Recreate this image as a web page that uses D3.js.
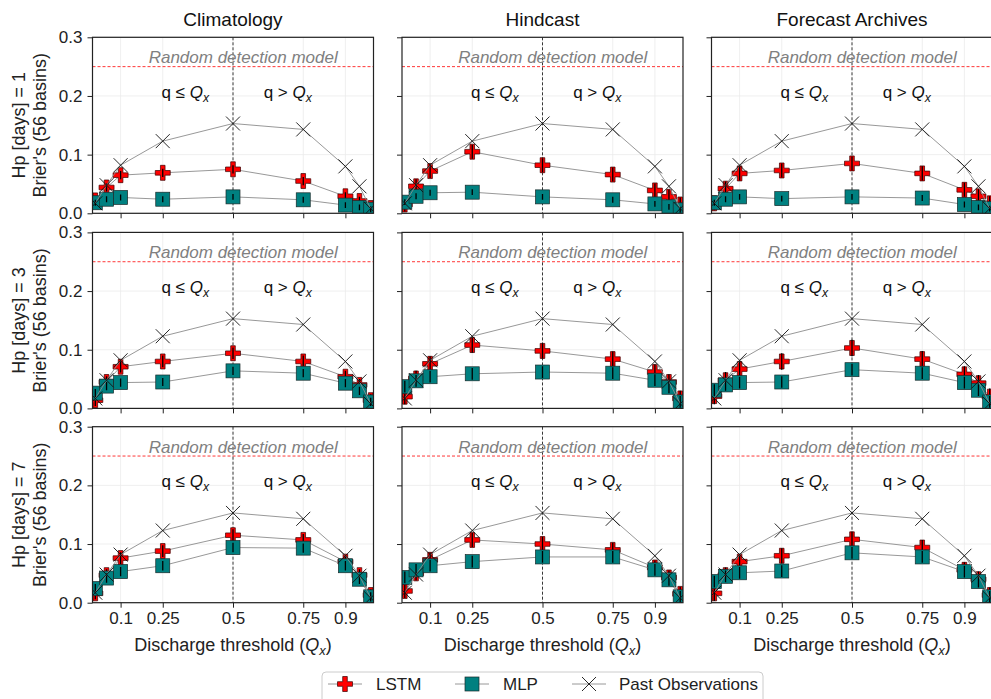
<!DOCTYPE html>
<html>
<head>
<meta charset="utf-8">
<style>
  body { margin: 0; background: #fff; }
  svg text { font-family: "Liberation Sans", Arial, sans-serif; }
</style>
</head>
<body>
<svg width="991" height="699"></svg>
<script src="https://cdn.jsdelivr.net/npm/d3@7"></script>
<script>
// ---- data ----
var columns = ["Climatology", "Hindcast", "Forecast Archives"];
var horizons = [1, 3, 7];
var thresholds = [0.01, 0.05, 0.1, 0.25, 0.5, 0.75, 0.9, 0.95, 0.99];
var xTicks = [0.1, 0.25, 0.5, 0.75, 0.9];
var yTicks = [0, 0.1, 0.2, 0.3];

// past observations is the same in every panel
var pastObs = [0.017, 0.048, 0.082, 0.123, 0.153, 0.143, 0.080, 0.046, 0.008];

// lstm[row][col], mlp[row][col]
var lstm = [
  [[0.022, 0.044, 0.065, 0.069, 0.075, 0.055, 0.029, 0.021, 0.009],
   [0.015, 0.046, 0.072, 0.105, 0.082, 0.066, 0.039, 0.028, 0.015],
   [0.017, 0.042, 0.068, 0.073, 0.085, 0.068, 0.040, 0.029, 0.017]],
  [[0.014, 0.045, 0.071, 0.080, 0.094, 0.080, 0.054, 0.040, 0.014],
   [0.020, 0.051, 0.076, 0.108, 0.098, 0.084, 0.062, 0.045, 0.017],
   [0.021, 0.048, 0.067, 0.080, 0.103, 0.084, 0.058, 0.043, 0.020]],
  [[0.016, 0.047, 0.076, 0.088, 0.115, 0.107, 0.070, 0.047, 0.013],
   [0.020, 0.050, 0.073, 0.107, 0.100, 0.090, 0.060, 0.043, 0.015],
   [0.016, 0.047, 0.070, 0.080, 0.108, 0.094, 0.056, 0.040, 0.013]]
];
var mlp = [
  [[0.018, 0.024, 0.027, 0.024, 0.028, 0.023, 0.014, 0.010, 0.007],
   [0.019, 0.029, 0.035, 0.036, 0.028, 0.023, 0.016, 0.011, 0.006],
   [0.018, 0.024, 0.028, 0.025, 0.028, 0.026, 0.015, 0.010, 0.008]],
  [[0.026, 0.038, 0.044, 0.045, 0.064, 0.060, 0.043, 0.030, 0.011],
   [0.037, 0.047, 0.054, 0.059, 0.062, 0.060, 0.048, 0.036, 0.011],
   [0.031, 0.040, 0.044, 0.045, 0.066, 0.060, 0.044, 0.031, 0.011]],
  [[0.024, 0.042, 0.053, 0.063, 0.094, 0.093, 0.063, 0.040, 0.010],
   [0.043, 0.056, 0.063, 0.070, 0.078, 0.078, 0.056, 0.039, 0.010],
   [0.036, 0.045, 0.051, 0.054, 0.085, 0.078, 0.053, 0.036, 0.010]]
];
// error bar half widths per panel
var lstmErr = [[0.007, 0.012, 0.012], [0.010, 0.013, 0.014], [0.010, 0.012, 0.013]];
var mlpErr = [[0.005, 0.005, 0.005], [0.007, 0.010, 0.010], [0.008, 0.010, 0.010]];
var randomLevel = 0.25;

// ---- layout ----
var svg = d3.select("svg");
var panelLeft = [92.5, 402, 711.5],
    panelTop = [37.3, 232.4, 426.7],
    pw = 281, ph = 176;

var x = d3.scaleLinear().domain([0, 1]).range([0, pw]);
var y = d3.scaleLinear().domain([0, 0.3]).range([ph, 0]);

var lineColor = "#8c8c8c";

function plusPath(s) {
  var a = s / 2, b = s / 6.5;
  return "M" + (-b) + "," + (-a) + "H" + b + "V" + (-b) + "H" + a + "V" + b + "H" + b +
    "V" + a + "H" + (-b) + "V" + b + "H" + (-a) + "V" + (-b) + "H" + (-b) + "Z";
}

function qText(sel, prefix) {
  sel.append("tspan").text(prefix);
  sel.append("tspan").attr("font-style", "italic").text("Q");
  sel.append("tspan").attr("font-style", "italic").attr("font-size", "0.72em")
    .attr("dy", 4).text("x");
}

function drawSeries(g, vals, err, kind) {
  var pts = thresholds.map(function(t, i) { return {x: t, y: vals[i]}; });
  g.append("path")
    .datum(pts)
    .attr("fill", "none")
    .attr("stroke", lineColor)
    .attr("stroke-width", 0.9)
    .attr("d", d3.line().x(function(d) { return x(d.x); }).y(function(d) { return y(d.y); }));

  var m = g.selectAll("g." + kind).data(pts).enter().append("g")
    .attr("class", kind)
    .attr("transform", function(d) { return "translate(" + x(d.x) + "," + y(d.y) + ")"; });

  if (kind == "lstm") {
    m.append("path").attr("d", plusPath(15)).attr("fill", "#ff0000")
      .attr("stroke", "#3a0000").attr("stroke-width", 0.7);
  } else if (kind == "mlp") {
    m.append("rect").attr("x", -7).attr("y", -7).attr("width", 14).attr("height", 14)
      .attr("fill", "#008080").attr("stroke", "#1a2a2a").attr("stroke-width", 0.7);
  } else {
    m.append("path").attr("d", "M-7,-7L7,7M-7,7L7,-7")
      .attr("stroke", "#111").attr("stroke-width", 0.9).attr("fill", "none");
  }
  if (err) {
    g.selectAll("line." + kind + "err").data(pts).enter().append("line")
      .attr("class", kind + "err")
      .attr("x1", function(d) { return x(d.x); })
      .attr("x2", function(d) { return x(d.x); })
      .attr("y1", function(d) { return y(Math.max(0, d.y - err)); })
      .attr("y2", function(d) { return y(d.y + err); })
      .attr("stroke", "#000").attr("stroke-width", 1.3);
  }
}

for (var r = 0; r < 3; r++) {
  for (var c = 0; c < 3; c++) {
    var g = svg.append("g")
      .attr("transform", "translate(" + panelLeft[c] + "," + panelTop[r] + ")");

    // clip so markers at the edge get cut like the original
    var cid = "clip" + r + c;
    g.append("clipPath").attr("id", cid).append("rect")
      .attr("width", pw).attr("height", ph);

    // grid
    g.selectAll("line.gx").data(xTicks).enter().append("line")
      .attr("x1", x).attr("x2", x).attr("y1", 0).attr("y2", ph)
      .attr("stroke", "#ebebeb").attr("stroke-width", 0.8);
    g.selectAll("line.gy").data(yTicks).enter().append("line")
      .attr("x1", 0).attr("x2", pw).attr("y1", y).attr("y2", y)
      .attr("stroke", "#ebebeb").attr("stroke-width", 0.8);

    // axes
    var xa = g.append("g").attr("transform", "translate(0," + ph + ")")
      .call(d3.axisBottom(x).tickValues(xTicks).tickSize(5).tickPadding(4)
        .tickFormat(r == 2 ? function(d) { return String(d); } : function() { return ""; }));
    var ya = g.append("g")
      .call(d3.axisLeft(y).tickValues(yTicks).tickSize(5).tickPadding(5)
        .tickFormat(c == 0 ? d3.format(".1f") : function() { return ""; }));
    [xa, ya].forEach(function(a) {
      a.select(".domain").remove();
      a.selectAll("line").attr("stroke", "#222").attr("stroke-width", 1);
      a.selectAll("text").attr("font-size", 17).attr("fill", "#222")
        .style("font-family", "'Liberation Sans', Arial, sans-serif");
    });

    var plot = g.append("g").attr("clip-path", "url(#" + cid + ")");

    // random detection line
    plot.append("line").attr("x1", 0).attr("x2", pw)
      .attr("y1", y(randomLevel)).attr("y2", y(randomLevel))
      .attr("stroke", "#ff2020").attr("stroke-width", 0.9).attr("stroke-dasharray", "3,2");
    g.append("text").attr("x", x(0.2)).attr("y", y(randomLevel) - 3.5)
      .attr("font-size", 17).attr("font-style", "italic").attr("fill", "#808080")
      .text("Random detection model");

    // 0.5 divider
    plot.append("line").attr("x1", x(0.5)).attr("x2", x(0.5)).attr("y1", 0).attr("y2", ph)
      .attr("stroke", "#222").attr("stroke-width", 0.9).attr("stroke-dasharray", "3,2");

    qText(g.append("text").attr("x", x(0.33)).attr("y", y(0.2) + 2)
      .attr("text-anchor", "middle").attr("font-size", 17).attr("fill", "#111"), "q \u2264 ");
    qText(g.append("text").attr("x", x(0.695)).attr("y", y(0.2) + 2)
      .attr("text-anchor", "middle").attr("font-size", 17).attr("fill", "#111"), "q > ");

    drawSeries(plot, lstm[r][c], lstmErr[r][c], "lstm");
    drawSeries(plot, mlp[r][c], mlpErr[r][c], "mlp");
    drawSeries(plot, pastObs, 0, "obs");

    // frame
    g.append("rect").attr("width", pw).attr("height", ph)
      .attr("fill", "none").attr("stroke", "#222").attr("stroke-width", 1.2);

    if (r == 0) {
      g.append("text").attr("x", pw / 2).attr("y", -11).attr("text-anchor", "middle")
        .attr("font-size", 19).attr("fill", "#111").text(columns[c]);
    }
    if (r == 2) {
      var xl = g.append("text").attr("x", pw / 2).attr("y", ph + 48)
        .attr("text-anchor", "middle").attr("font-size", 18).attr("fill", "#222");
      xl.append("tspan").text("Discharge threshold (");
      xl.append("tspan").attr("font-style", "italic").text("Q");
      xl.append("tspan").attr("font-style", "italic").attr("font-size", "0.72em").attr("dy", 4).text("x");
      xl.append("tspan").attr("dy", -4).text(")");
    }
    if (c == 0) {
      var yl = svg.append("text")
        .attr("transform", "translate(" + 25 + "," + (panelTop[r] + ph / 2) + ") rotate(-90)")
        .attr("text-anchor", "middle").attr("font-size", 18).attr("fill", "#222");
      yl.append("tspan").attr("x", 0).attr("dy", 0).text("Hp [days] = " + horizons[r]);
      yl.append("tspan").attr("x", 0).attr("dy", 21).text("Brier's (56 basins)");
    }
  }
}

// ---- legend ----
var leg = svg.append("g").attr("transform", "translate(322,672)");
leg.append("rect").attr("width", 441).attr("height", 40).attr("rx", 4)
  .attr("fill", "#fff").attr("stroke", "#cccccc").attr("stroke-width", 1);
var legItems = [
  {name: "LSTM", kind: "lstm", x0: 6, tx: 54},
  {name: "MLP", kind: "mlp", x0: 133, tx: 181},
  {name: "Past Observations", kind: "obs", x0: 250, tx: 297}
];
legItems.forEach(function(it) {
  var li = leg.append("g").attr("transform", "translate(" + it.x0 + ",12)");
  li.append("line").attr("x1", 0).attr("x2", 34).attr("stroke", lineColor).attr("stroke-width", 0.9);
  var mk = li.append("g").attr("transform", "translate(17,0)");
  if (it.kind == "lstm") {
    mk.append("path").attr("d", plusPath(15)).attr("fill", "#ff0000")
      .attr("stroke", "#3a0000").attr("stroke-width", 0.7);
  } else if (it.kind == "mlp") {
    mk.append("rect").attr("x", -7).attr("y", -7).attr("width", 14).attr("height", 14)
      .attr("fill", "#008080").attr("stroke", "#1a2a2a").attr("stroke-width", 0.7);
  } else {
    mk.append("path").attr("d", "M-7,-7L7,7M-7,7L7,-7").attr("stroke", "#111").attr("stroke-width", 0.9);
  }
  leg.append("text").attr("x", it.tx).attr("y", 18).attr("font-size", 17).attr("fill", "#222").text(it.name);
});
</script>
</body>
</html>
